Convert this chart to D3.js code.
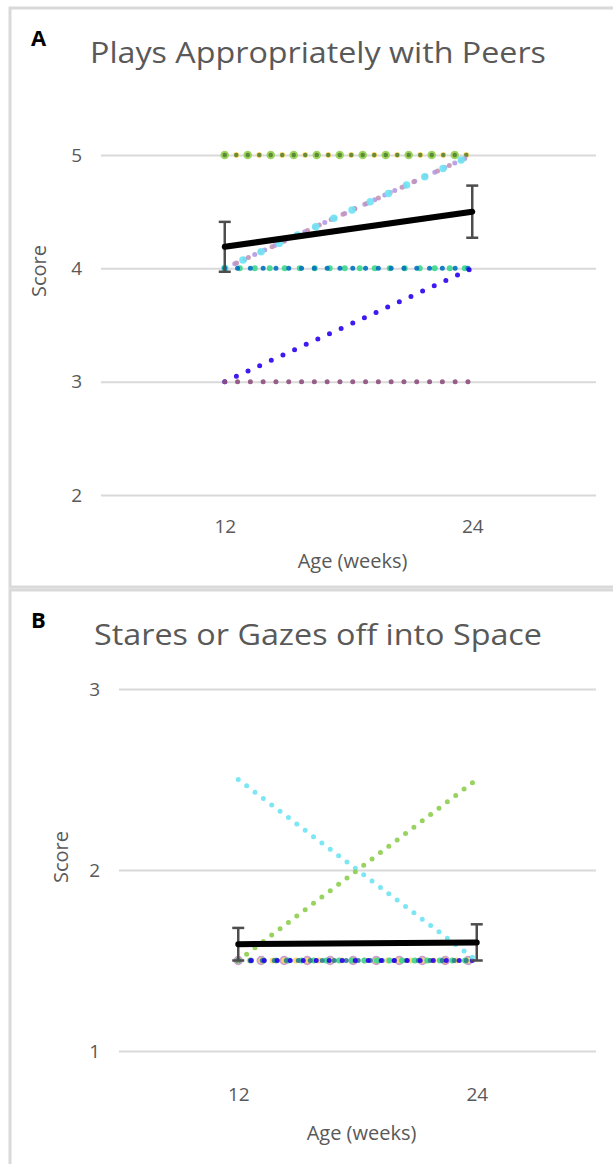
<!DOCTYPE html>
<html>
<head>
<meta charset="utf-8">
<script src="https://cdn.jsdelivr.net/npm/d3@7"></script>
<style>
  body { margin: 0; background: #fff; }
  text { font-family: "Open Sans", "Noto Sans", sans-serif; fill: #595959; }
</style>
</head>
<body>
<svg id="chart" width="613" height="1164"></svg>
<script>
// data
var ages = ['12', '24'];

// panel A: Plays Appropriately with Peers (score at 12 and 24 weeks)
var playsTicks = [2, 3, 4, 5];
var playsSeries = [
    [5, 5], [5, 5], [5, 5],
    [4, 5], [4, 5], [4, 5],
    [4, 4], [4, 4],
    [3, 4], [3, 3]
];
var playsMean = [4.19, 4.5];
var playsErr = [0.22, 0.23];

// panel B: Stares or Gazes off into Space
var staresTicks = [1, 2, 3];
var staresSeries = [
    [1.5, 1.5], [1.5, 1.5], [1.5, 1.5], [1.5, 1.5], [1.5, 1.5],
    [2.5, 1.5], [1.5, 2.5]
];
var staresMean = [1.59, 1.6];
var staresErr = [0.09, 0.1];

// styles for the individual lines: colour, dot size, dot spacing
var playsStyle = [
    ['#ffd966', 6, 11.5], ['#92d050', 8.5, 23], ['#548235', 4.5, 11.5],
    ['#b09be6', 5, 11], ['#c493b8', 5, 13], ['#6fe3f3', 7.5, 20],
    ['#3dd68c', 6, 15], ['#0070c0', 5, 12.8],
    ['#2a00ee', 5, 12.8], ['#8e4f7e', 5, 12.8]
];
var staresStyle = [
    ['#c595c5', 9.5, 23], ['#ffd966', 6, 11.5], ['#3dd68c', 6, 12.6],
    ['#2e7d8c', 5, 12], ['#2a00ee', 5, 13],
    ['#6fe3f3', 5, 10.5], ['#8cce4c', 5, 10.5]
];

var svg = d3.select('#chart');

function drawPanel(o) {
    var g = svg.append('g');

    // frame
    g.append('rect')
        .attr('x', 10).attr('y', o.top)
        .attr('width', 620).attr('height', o.h)
        .attr('fill', 'none').attr('stroke', '#d9d9d9').attr('stroke-width', 3);

    g.append('text').text(o.letter)
        .attr('x', 31).attr('y', o.top + 38)
        .style('font-weight', 'bold').style('font-size', '22px').style('fill', '#000');

    g.append('text').text(o.title)
        .attr('x', 318).attr('y', o.top + 55)
        .attr('text-anchor', 'middle')
        .attr('textLength', o.titleW).attr('lengthAdjust', 'spacingAndGlyphs')
        .style('font-size', '29px');

    var scX = d3.scalePoint().domain(ages).range([o.x0, 596]).padding(0.5);
    var scY = d3.scaleLinear().domain(o.dom).range([o.y0, o.y1]);

    // gridlines + y labels
    var ay = g.append('g').attr('transform', 'translate(' + o.x0 + ',0)')
        .call(d3.axisLeft(scY).tickValues(o.ticks).tickFormat(d3.format('d'))
            .tickSize(-(596 - o.x0)).tickPadding(19));
    ay.select('.domain').remove();
    ay.selectAll('line').attr('stroke', '#d9d9d9').attr('stroke-width', 2);
    ay.selectAll('text').style('font-size', '19px').style('fill', '#595959');

    // x labels
    var ax = g.append('g').attr('transform', 'translate(0,' + o.y0 + ')')
        .call(d3.axisBottom(scX).tickSize(0).tickPadding(o.xPad));
    ax.select('.domain').remove();
    ax.selectAll('text').style('font-size', '19px').style('fill', '#595959');

    g.append('text').text('Age (weeks)')
        .attr('x', (o.x0 + 596) / 2 + 4).attr('y', o.y0 + o.xTitle)
        .attr('text-anchor', 'middle').style('font-size', '20px');

    g.append('text').text('Score')
        .attr('transform', 'translate(' + o.scoreX + ',' + o.scoreY + ') rotate(-90)')
        .attr('text-anchor', 'middle').style('font-size', '20px');

    var line = d3.line().x((d, i) => scX(ages[i])).y(d => scY(d));

    // individual subjects as round dotted lines
    g.selectAll('path.subj').data(o.series).enter().append('path')
        .attr('class', 'subj')
        .attr('d', line)
        .attr('fill', 'none')
        .attr('stroke', (d, i) => o.style[i][0])
        .attr('stroke-width', (d, i) => o.style[i][1])
        .attr('stroke-dasharray', (d, i) => '0,' + o.style[i][2])
        .attr('stroke-linecap', 'round')
        .attr('stroke-opacity', 0.9);

    // error bars
    var eb = g.selectAll('g.err').data(o.mean).enter().append('g').attr('class', 'err');
    eb.append('line')
        .attr('x1', (d, i) => scX(ages[i])).attr('x2', (d, i) => scX(ages[i]))
        .attr('y1', (d, i) => scY(d - o.err[i])).attr('y2', (d, i) => scY(d + o.err[i]));
    [-1, 1].forEach(function (s) {
        eb.append('line')
            .attr('x1', (d, i) => scX(ages[i]) - 6).attr('x2', (d, i) => scX(ages[i]) + 6)
            .attr('y1', (d, i) => scY(d + s * o.err[i])).attr('y2', (d, i) => scY(d + s * o.err[i]));
    });
    eb.selectAll('line').attr('stroke', '#4d4d4d').attr('stroke-width', 2.5);

    // group mean
    g.append('path').datum(o.mean)
        .attr('d', line)
        .attr('fill', 'none').attr('stroke', '#000').attr('stroke-width', 6)
        .attr('stroke-linecap', 'round');
}

drawPanel({
    top: 8, h: 579, letter: 'A', title: 'Plays Appropriately with Peers', titleW: 456,
    x0: 101, y0: 495, y1: 155, dom: [2, 5], ticks: playsTicks,
    series: playsSeries, style: playsStyle, mean: playsMean, err: playsErr,
    xPad: 25, xTitle: 73, scoreX: 46, scoreY: 271
});

drawPanel({
    top: 590, h: 590, letter: 'B', title: 'Stares or Gazes off into Space', titleW: 448,
    x0: 119, y0: 1051, y1: 689, dom: [1, 3], ticks: staresTicks,
    series: staresSeries, style: staresStyle, mean: staresMean, err: staresErr,
    xPad: 37, xTitle: 89, scoreX: 68, scoreY: 857
});
</script>
</body>
</html>
